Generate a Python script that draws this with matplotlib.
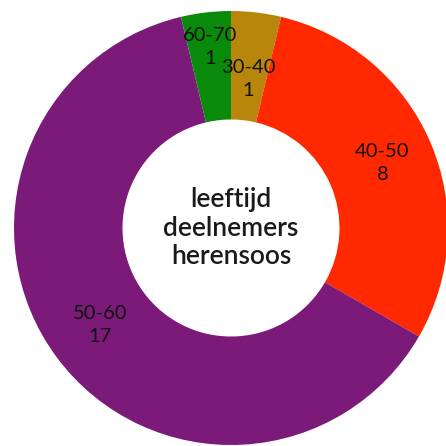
import numpy as np
import matplotlib.pyplot as plt

groepen = ["30-40", "40-50", "50-60", "60-70"]
aantallen = [1, 8, 17, 1]
kleuren = ["#B8860B", "#FF2800", "#7B1A78", "#0A8A0A"]
label_afstand = [0.69, 0.76, 0.75, 0.84]

plt.rcParams["font.family"] = ["Lato", "DejaVu Sans"]

fig = plt.figure(figsize=(4.46, 4.46), dpi=100)
ax = fig.add_axes([14 / 446, 1 / 446, 434 / 446, 434 / 446])

wedges, _ = ax.pie(aantallen, colors=kleuren, startangle=90, counterclock=False,
                   radius=1, wedgeprops=dict(width=0.5, linewidth=0))

totaal = sum(aantallen)
cum = 0
for g, n, r in zip(groepen, aantallen, label_afstand):
    mid = (cum + n / 2) / totaal
    cum += n
    hoek = np.deg2rad(90 - 360 * mid)
    ax.text(r * np.cos(hoek), r * np.sin(hoek), f"{g}\n{n}", ha="center", va="center",
            fontsize=14.5, color="#111111", linespacing=1.45)

ax.text(0, 0, "leeftijd\ndeelnemers\nherensoos", ha="center", va="center",
        fontsize=19, color="#1a1a1a", linespacing=1.2, fontweight="semibold")

ax.set_xlim(-1, 1)
ax.set_ylim(-1, 1)
ax.set_aspect("equal")
ax.axis("off")

fig.savefig("out.png", dpi=100)
